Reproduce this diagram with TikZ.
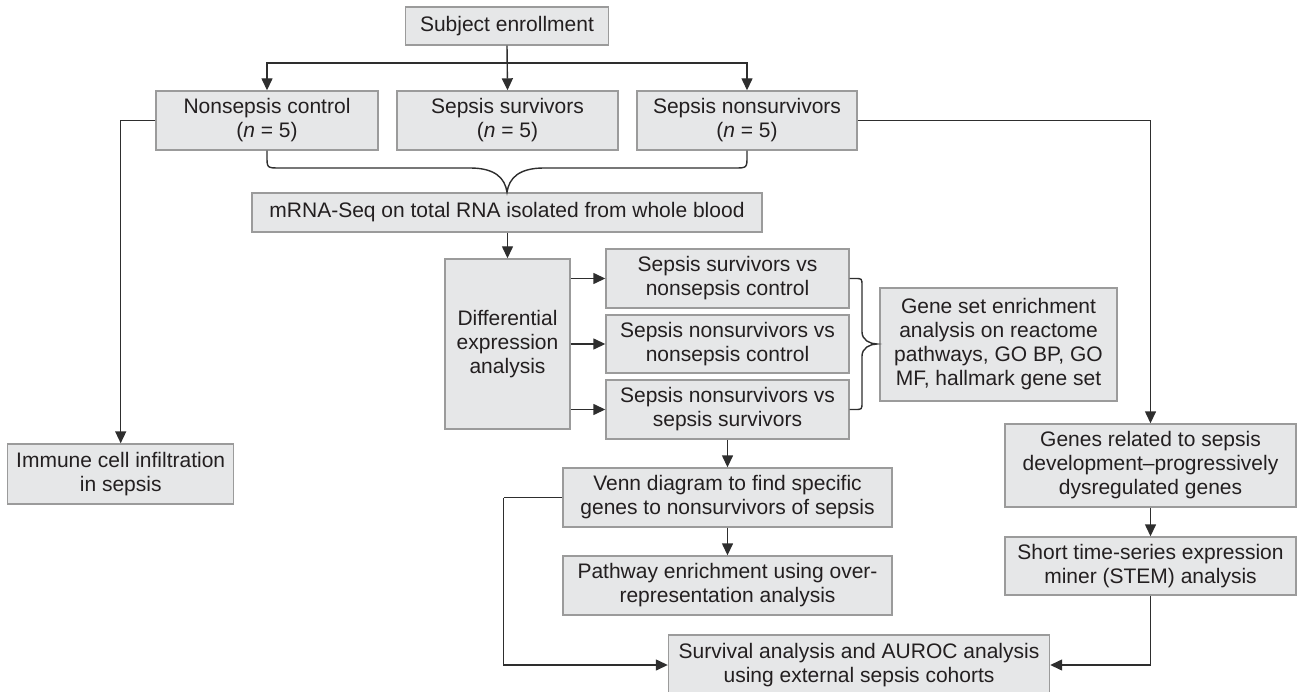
\documentclass[tikz,border=0pt]{standalone}
\usepackage{fontspec}
\setmainfont{Liberation Sans}
\usetikzlibrary{arrows.meta,calc}
\definecolor{boxfill}{HTML}{E6E7E8}
\definecolor{boxline}{HTML}{9B9B9B}
\definecolor{linec}{HTML}{2E2E2E}
\definecolor{txt}{HTML}{231F20}
\begin{document}
\begin{tikzpicture}[x=1pt,y=-1pt,
  box/.style={draw=boxline, line width=1.4pt, fill=boxfill, align=center, inner sep=0pt, text=txt, font=\fontsize{21}{24}\selectfont},
  arr/.style={draw=linec, line width=1.4pt, -{Triangle[length=12pt,width=11pt]}},
  ln/.style={draw=linec, line width=1.4pt}]
\useasboundingbox (0,0) rectangle (1297,692);

\node[box, minimum width=203pt, minimum height=38pt] (subj) at (507,26) {Subject enrollment};
\node[box, minimum width=222pt, minimum height=59pt] (nsc) at (267,120.5) {Nonsepsis control\\(\textit{n} = 5)};
\node[box, minimum width=221pt, minimum height=59pt] (ss) at (507.5,120.5) {Sepsis survivors\\(\textit{n} = 5)};
\node[box, minimum width=220pt, minimum height=59pt] (sns) at (747,120.5) {Sepsis nonsurvivors\\(\textit{n} = 5)};
\node[box, minimum width=510pt, minimum height=39pt] (mrna) at (507,212.5) {mRNA-Seq on total RNA isolated from whole blood};
\node[box, minimum width=125pt, minimum height=170pt] (diff) at (507.5,344) {Differential\\expression\\analysis};
\node[box, minimum width=243pt, minimum height=59pt] (c1) at (727.5,278.5) {Sepsis survivors vs\\nonsepsis control};
\node[box, minimum width=243pt, minimum height=58pt] (c2) at (727.5,344) {Sepsis nonsurvivors vs\\nonsepsis control};
\node[box, minimum width=243pt, minimum height=59pt] (c3) at (727.5,409.5) {Sepsis nonsurvivors vs\\sepsis survivors};
\node[box, minimum width=237pt, minimum height=113pt] (gse) at (998.5,344.5) {Gene set enrichment\\analysis on reactome\\pathways, GO BP, GO\\MF, hallmark gene set};
\node[box, minimum width=226pt, minimum height=60pt] (imm) at (120.7,474) {Immune cell infiltration\\in sepsis};
\node[box, minimum width=329pt, minimum height=59pt] (venn) at (727.5,497.5) {Venn diagram to find specific\\genes to nonsurvivors of sepsis};
\node[box, minimum width=329pt, minimum height=59pt] (path) at (727.5,585.5) {Pathway enrichment using over-\\representation analysis};
\node[box, minimum width=381pt, minimum height=60pt] (surv) at (859,665) {Survival analysis and AUROC analysis\\using external sepsis cohorts};
\node[box, minimum width=291pt, minimum height=83pt] (genes) at (1150.5,465.5) {Genes related to sepsis\\development--progressively\\dysregulated genes};
\node[box, minimum width=291pt, minimum height=58pt] (stem) at (1150.5,566) {Short time-series expression\\miner (STEM) analysis};

\coordinate (hb) at (507,63);
\draw[arr] (subj.south) -- (ss.north);
\draw[arr] (hb) -| (nsc.north);
\draw[arr] (hb) -| (sns.north);

\draw[ln] (nsc.south) -- (267,156) .. controls (267,168) .. (280,168) -- (470,168)
  .. controls (495,168) and (505,178) .. (mrna.north)
  .. controls (509,178) and (519,168) .. (544,168) -- (734,168)
  .. controls (747,168) .. (747,156) -- (sns.south);

\draw[arr] (mrna.south -| diff.north) -- (diff.north);
\draw[arr] (diff.east |- c1.west) -- (c1.west);
\draw[arr] (diff.east |- c2.west) -- (c2.west);
\draw[arr] (diff.east |- c3.west) -- (c3.west);

\draw[ln] (c1.east) -- (855,278.5) .. controls (862,278.5) .. (862,286) -- (862,332)
  .. controls (862,340) and (870,344) .. (877,344)
  .. controls (870,344) and (862,348) .. (862,356) -- (862,402)
  .. controls (862,409.5) .. (855,409.5) -- (c3.east);

\draw[arr] (nsc.west) -| (imm.north);
\draw[arr] (sns.east) -| (genes.north);
\draw[arr] (genes.south) -- (stem.north);
\draw[arr] (stem.south) |- (surv.east);
\draw[arr] (c3.south) -- (venn.north);
\draw[arr] (venn.south) -- (path.north);
\coordinate (vl) at (503.5,497.5);
\draw[ln] (venn.west) -- (vl);
\draw[arr] (vl) |- (surv.west);
\end{tikzpicture}
\end{document}
